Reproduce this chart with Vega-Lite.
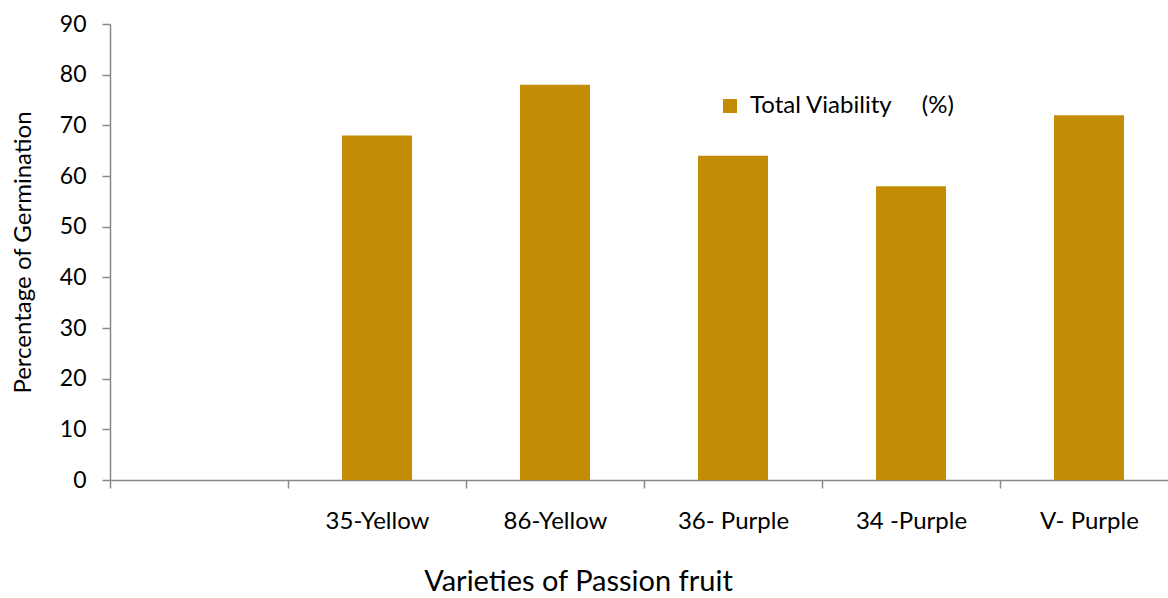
{
  "$schema": "https://vega.github.io/schema/vega-lite/v6.json",
  "autosize": {"type": "none"},
  "width": 1058,
  "height": 456,
  "padding": {"left": 110, "top": 24, "right": 0, "bottom": 118},
  "background": "white",
  "config": {"view": {"stroke": null}, "font": "Lato"},
  "data": {
    "values": [
      {"variety": "35-Yellow", "viability": 68},
      {"variety": "86-Yellow", "viability": 78},
      {"variety": "36- Purple", "viability": 64},
      {"variety": "34 -Purple", "viability": 58},
      {"variety": "V- Purple", "viability": 72}
    ]
  },
  "mark": {"type": "bar"},
  "encoding": {
    "x": {
      "field": "variety",
      "type": "nominal",
      "sort": null,
      "scale": {
        "domain": ["", "35-Yellow", "86-Yellow", "36- Purple", "34 -Purple", "V- Purple"],
        "range": [0, 1068],
        "paddingInner": 0.607,
        "paddingOuter": 0.3035
      },
      "axis": {
        "title": "Varieties of Passion fruit",
        "titleFontSize": 29,
        "titleFontWeight": "normal",
        "titleColor": "black",
        "titlePadding": 34,
        "titleX": 468,
        "labelAngle": 0,
        "labelFontSize": 24,
        "labelColor": "black",
        "labelPadding": 21,
        "tickOffset": -89,
        "labelOffset": 89,
        "tickSize": 8,
        "tickColor": "#898989",
        "domainColor": "#898989",
        "tickWidth": 1.5,
        "domainWidth": 1.5,
        "grid": false
      }
    },
    "y": {
      "field": "viability",
      "type": "quantitative",
      "scale": {"domain": [0, 90], "nice": false},
      "axis": {
        "title": "Percentage of Germination",
        "titleFontSize": 24,
        "titleFontWeight": "normal",
        "titleColor": "black",
        "titlePadding": 24,
        "values": [0, 10, 20, 30, 40, 50, 60, 70, 80, 90],
        "labelFontSize": 23,
        "labelColor": "black",
        "labelPadding": 16,
        "tickSize": 8,
        "tickColor": "#898989",
        "domainColor": "#898989",
        "tickWidth": 1.5,
        "domainWidth": 1.5,
        "grid": false
      }
    },
    "color": {
      "datum": "Total Viability\u00a0\u00a0\u00a0\u00a0 (%)",
      "type": "nominal",
      "scale": {"range": ["#C48C04"]},
      "legend": {
        "title": null,
        "orient": "none",
        "legendX": 608,
        "legendY": 70,
        "symbolType": "square",
        "symbolSize": 196,
        "symbolStrokeWidth": 0,
        "labelFontSize": 24,
        "labelLimit": 500,
        "labelColor": "black",
        "labelOffset": 8
      }
    }
  }
}
